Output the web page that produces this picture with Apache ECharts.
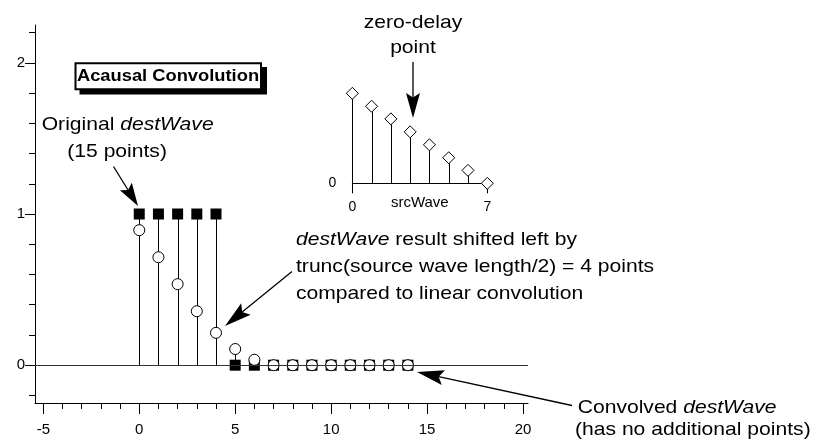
<!DOCTYPE html>
<html>
<head>
<meta charset="utf-8">
<script src="https://cdn.jsdelivr.net/npm/echarts@6/dist/echarts.min.js"></script>
<style>
html,body{margin:0;padding:0;background:#fff;}
#chart{width:817px;height:445px;}
</style>
</head>
<body>
<div id="chart"></div>
<script>
// ---- data ----
const pointIndex = [0,1,2,3,4,5,6,7,8,9,10,11,12,13,14];
const originalDestWave = [1,1,1,1,1,0,0,0,0,0,0,0,0,0,0];
const convolvedDestWave = [0.893,0.714,0.536,0.357,0.214,0.107,0.036,0,0,0,0,0,0,0,0];
const srcIndex = [0,1,2,3,4,5,6,7];
const srcWave = [0.25,0.214,0.179,0.143,0.107,0.071,0.036,0];

// ---- ticks ----
const xMajorTicks = [-5,0,5,10,15,20];
const xMinorTicks = [-5,-4,-3,-2,-1,0,1,2,3,4,5,6,7,8,9,10,11,12,13,14,15,16,17,18,19,20];
const yMajorTicks = [0,1,2];
const yMinorTicks = [-0.2,0,0.2,0.4,0.6,0.8,1,1.2,1.4,1.6,1.8,2,2.2];
const srcXTicks = [0,7];
const srcYTicks = [0];

const FONT = '"Liberation Sans", Arial, Helvetica, sans-serif';

const chart = echarts.init(document.getElementById('chart'), null, {renderer:'canvas'});

function pairs(xs, ys){ return xs.map((x,i)=>[x, ys[i]]); }

function stemItem(params, api){
  const x = api.value(0), v = api.value(1);
  const p0 = api.coord([x, 0]);
  const p1 = api.coord([x, v]);
  const px = Math.round(p0[0]) + 0.5;
  return {type:'line', shape:{x1:px, y1:p0[1], x2:px, y2:p1[1]},
          style:{stroke:'#000', lineWidth:1}};
}

function arrow(x1,y1,x2,y2,len,hw){
  const dx=x2-x1, dy=y2-y1, L=Math.hypot(dx,dy), ux=dx/L, uy=dy/L;
  const bx=x2-ux*len, by=y2-uy*len;
  const nx=x2-ux*len*0.82, ny=y2-uy*len*0.82;
  return [
    {type:'line', shape:{x1:x1,y1:y1,x2:nx,y2:ny}, style:{stroke:'#000', lineWidth:1.3}},
    {type:'polygon', shape:{points:[[x2,y2],[bx-uy*hw,by+ux*hw],[nx,ny],[bx+uy*hw,by-ux*hw]]},
     style:{fill:'#000'}}
  ];
}

const FS = 18.5, SX = 1.14;
const richI = {i:{fontStyle:'italic', fontSize:FS, fontFamily:FONT, fill:'#000'}};
function txt(x, baseline, text, align){
  return {type:'text', x:x, y:baseline - 0.3465*FS, scaleX:SX,
    style:{text:text, fontSize:FS, fontFamily:FONT, fill:'#000',
           textAlign:align||'left', verticalAlign:'middle', rich:richI}};
}

const graphics = [
  // title box
  {type:'rect', shape:{x:79.5, y:67, width:187.5, height:27.5}, style:{fill:'#000'}},
  {type:'rect', shape:{x:75.5, y:63.3, width:185.5, height:26}, style:{fill:'#fff', stroke:'#000', lineWidth:2}},
  {type:'text', x:168, y:76.5, scaleX:1.11,
   style:{text:'Acausal Convolution', fontSize:16.5, fontWeight:'bold', fontFamily:FONT, fill:'#000',
          textAlign:'center', verticalAlign:'middle'}},
  txt(41.7, 131.7, 'Original {i|destWave}'),
  txt(67.3, 158, '(15 points)'),
  txt(413, 29.5, 'zero-delay', 'center'),
  txt(413, 54.5, 'point', 'center'),
  txt(296, 246.7, '{i|destWave} result shifted left by'),
  txt(296, 273, 'trunc(source wave length/2) = 4 points'),
  txt(296, 300, 'compared to linear convolution'),
  txt(577.7, 414, 'Convolved {i|destWave}'),
  txt(575, 436.7, '(has no additional points)')
].concat(
  arrow(113.5,166.5,138,206,23,7),
  arrow(413,62,413,118,25,7),
  arrow(292,271.5,225,326,27,7.5),
  arrow(572,405.5,417,372,27,7.5)
);

const axisText = {color:'#000', fontSize:15, fontFamily:FONT};

const option = {
  backgroundColor:'#fff',
  animation:false,
  grid:[
    {left:35, top:25, width:493, height:378},
    {left:352.3, top:93.3, width:135, height:90}
  ],
  xAxis:[
    {type:'value', gridIndex:0, min:-5.433, max:20.26, position:'bottom',
     axisLine:{show:true, onZero:false, lineStyle:{color:'#000', width:1}},
     axisTick:{show:true, inside:false, length:11, customValues:xMajorTicks, lineStyle:{color:'#000'}},
     axisLabel:{show:true, customValues:xMajorTicks, margin:19, ...axisText},
     splitLine:{show:false}},
    {type:'value', gridIndex:0, min:-5.433, max:20.26, position:'bottom',
     axisLine:{show:false, onZero:false},
     axisTick:{show:true, inside:false, length:6, customValues:xMinorTicks, lineStyle:{color:'#000'}},
     axisLabel:{show:false}, splitLine:{show:false}},
    {type:'value', gridIndex:1, min:0, max:7, position:'bottom',
     axisLine:{show:true, onZero:false, lineStyle:{color:'#000', width:1}},
     axisTick:{show:true, inside:false, length:10, customValues:srcXTicks, lineStyle:{color:'#000'}},
     axisLabel:{show:true, customValues:srcXTicks, margin:17, color:'#000', fontSize:14, fontFamily:FONT},
     name:'srcWave', nameLocation:'middle', nameGap:12, nameMoveOverlap:false,
     nameTextStyle:{color:'#000', fontSize:15, fontFamily:FONT, verticalAlign:'top'},
     splitLine:{show:false}}
  ],
  yAxis:[
    {type:'value', gridIndex:0, min:-0.25, max:2.25, position:'left',
     axisLine:{show:true, onZero:false, lineStyle:{color:'#000', width:1}},
     axisTick:{show:true, inside:false, length:10, customValues:yMajorTicks, lineStyle:{color:'#000'}},
     axisLabel:{show:true, customValues:yMajorTicks, margin:10, ...axisText},
     splitLine:{show:false}},
    {type:'value', gridIndex:0, min:-0.25, max:2.25, position:'left',
     axisLine:{show:false, onZero:false},
     axisTick:{show:true, inside:false, length:6, customValues:yMinorTicks, lineStyle:{color:'#000'}},
     axisLabel:{show:false}, splitLine:{show:false}},
    {type:'value', gridIndex:1, min:0, max:0.25, position:'left',
     axisLine:{show:false}, axisTick:{show:false},
     axisLabel:{show:true, customValues:srcYTicks, margin:16, color:'#000', fontSize:14, fontFamily:FONT},
     splitLine:{show:false}}
  ],
  series:[
    {type:'custom', name:'origStems', xAxisIndex:0, yAxisIndex:0, z:1, silent:true,
     data:pairs(pointIndex, originalDestWave), renderItem:stemItem,
     markLine:{silent:true, symbol:'none', label:{show:false},
       lineStyle:{color:'#333', width:1, type:'solid'}, data:[{yAxis:0}]}},
    {type:'custom', name:'convStems', xAxisIndex:0, yAxisIndex:0, z:1, silent:true,
     data:pairs(pointIndex, convolvedDestWave), renderItem:stemItem},
    {type:'scatter', name:'Original destWave', xAxisIndex:0, yAxisIndex:0, z:3, silent:true,
     symbol:'rect', symbolSize:11, itemStyle:{color:'#000', opacity:1},
     data:pairs(pointIndex, originalDestWave)},
    {type:'scatter', name:'Convolved destWave', xAxisIndex:0, yAxisIndex:0, z:4, silent:true,
     symbol:'circle', symbolSize:11, itemStyle:{color:'#fff', borderColor:'#000', borderWidth:1, opacity:1},
     data:pairs(pointIndex, convolvedDestWave)},
    {type:'custom', name:'srcStems', xAxisIndex:2, yAxisIndex:2, z:1, silent:true,
     data:pairs(srcIndex, srcWave), renderItem:stemItem},
    {type:'scatter', name:'srcWave', xAxisIndex:2, yAxisIndex:2, z:4, silent:true, clip:false,
     symbol:'diamond', symbolSize:[12,12], itemStyle:{color:'#fff', borderColor:'#000', borderWidth:1, opacity:1},
     data:pairs(srcIndex, srcWave)}
  ],
  graphic:graphics
};
chart.setOption(option);
</script>
</body>
</html>
